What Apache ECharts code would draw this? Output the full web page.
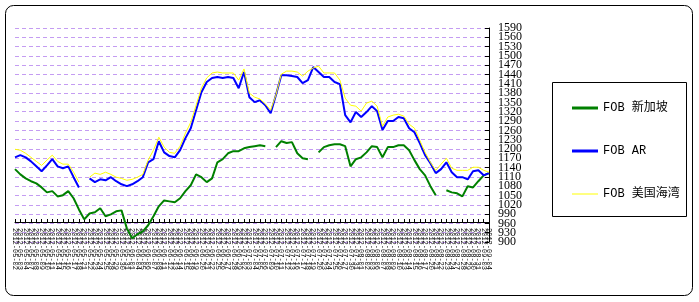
<!DOCTYPE html>
<html><head><meta charset="utf-8">
<script src="https://cdn.jsdelivr.net/npm/echarts@6/dist/echarts.min.js"></script>
<style>html,body{margin:0;padding:0;background:#fff}#c{width:699px;height:302px}</style>
</head><body><div id="c"></div>
<script>
var categories = [
"2012-05-02","2012-05-03","2012-05-04","2012-05-07","2012-05-08","2012-05-09","2012-05-10","2012-05-11","2012-05-14","2012-05-15",
"2012-05-16","2012-05-17","2012-05-18","2012-05-21","2012-05-22","2012-05-23","2012-05-24","2012-05-25","2012-05-28","2012-05-29",
"2012-05-30","2012-05-31","2012-06-01","2012-06-04","2012-06-05","2012-06-06","2012-06-07","2012-06-08","2012-06-11","2012-06-12",
"2012-06-13","2012-06-14","2012-06-15","2012-06-18","2012-06-19","2012-06-20","2012-06-21","2012-06-22","2012-06-25","2012-06-26",
"2012-06-27","2012-06-28","2012-06-29","2012-07-02","2012-07-03","2012-07-04","2012-07-05","2012-07-06","2012-07-09","2012-07-10",
"2012-07-11","2012-07-12","2012-07-13","2012-07-16","2012-07-17","2012-07-18","2012-07-19","2012-07-20","2012-07-23","2012-07-24",
"2012-07-25","2012-07-26","2012-07-27","2012-07-30","2012-07-31","2012-08-01","2012-08-02","2012-08-03","2012-08-06","2012-08-07",
"2012-08-08","2012-08-09","2012-08-10","2012-08-13","2012-08-14","2012-08-15","2012-08-16","2012-08-17","2012-08-20","2012-08-21",
"2012-08-22","2012-08-23","2012-08-24","2012-08-27","2012-08-28","2012-08-29","2012-08-30","2012-08-31","2012-09-03","2012-09-04"];

var fobSingapore = [1135,1118,1105,1096,1089,1076,1060,1064,1047,1051,
1064,1041,1005,973,992,996,1009,983,989,999,
1002,944,912,925,934,954,983,1015,1034,1031,
1028,1041,1064,1083,1118,1109,1093,1105,1157,1167,
1186,1193,1193,1202,1206,1209,1212,1209,null,1206,
1225,1219,1222,1186,1170,1167,null,1189,1206,1212,
1215,1215,1209,1144,1167,1173,1189,1209,1206,1173,
1206,1206,1212,1212,1196,1164,1135,1115,1080,1051,
null,1067,1060,1057,1047,1080,1076,1096,1115,1122];

var fobAR = [1173,1180,1173,1160,1144,1128,1147,1167,1144,1138,
1144,1109,1076,null,1105,1093,1102,1099,1109,1096,
1086,1080,1086,1096,1109,1157,1167,1225,1189,1177,
1173,1196,1235,1267,1325,1383,1416,1429,1432,1429,
1432,1429,1396,1448,1367,1351,1357,1341,1315,1374,
1438,1438,1435,1432,1412,1422,1464,1448,1432,1432,
1416,1409,1309,1286,1319,1303,1319,1338,1322,1261,
1290,1290,1303,1299,1267,1254,1219,1180,1154,1122,
1135,1157,1125,1109,1109,1102,1128,1131,1115,1122];

var fobUSGulf = [1199,1196,1186,1173,1160,1147,1164,1180,1160,1151,
1151,1125,1093,null,1109,1122,1118,1125,1118,1109,
1105,1099,1102,1109,1118,1164,1196,1238,1206,1189,
1186,1209,1251,1286,1341,1396,1429,1445,1448,1445,
1445,1445,1422,1458,1380,1367,1361,1345,1325,1374,
1441,1451,1451,1448,1435,1451,1461,1467,1445,1445,
1445,1422,1364,1341,1338,1322,1348,1354,1338,1273,
1303,1309,1312,1306,1280,1267,1228,1189,1157,1131,
1151,1170,1138,1131,1131,1131,1141,1141,1131,1125];

var seriesNames = ["FOB 新加坡", "FOB AR", "FOB 美国海湾"];
var yMin = 900, yMax = 1590, yStep = 30;

function labelFor(parity) {
  return function (v) {
    var k = Math.round((v - yMin) / yStep);
    return (k % 2 === parity) ? String(v) : '';
  };
}
var yLabelStyle = {fontSize: 12, margin: 9, color: '#000', fontFamily: '"Liberation Serif"',
  showMinLabel: true, showMaxLabel: true, hideOverlap: false};

var chart = echarts.init(document.getElementById('c'), null, {renderer: 'canvas'});
chart.setOption({
  animation: false,
  backgroundColor: '#fff',
  grid: {left: 15, right: 210, top: 28, bottom: 60, containLabel: false},
  graphic: [
    {type: 'rect', shape: {x: 5.5, y: 5.5, width: 687, height: 290, r: 8}, style: {fill: 'none', stroke: '#000', lineWidth: 1}, z: 0},
    {type: 'rect', shape: {x: 552.5, y: 82.5, width: 134, height: 134}, style: {fill: '#fff', stroke: '#000', lineWidth: 1}, z: 1}
  ],
  legend: {
    orient: 'vertical', left: 567, top: 97, itemWidth: 26, itemHeight: 14, itemGap: 31,
    textStyle: {fontSize: 12, color: '#000', fontFamily: '"Liberation Mono","Noto Sans CJK SC"'},
    data: [
      {name: seriesNames[0], icon: 'path://M0,0L26,0L26,3L0,3Z'},
      {name: seriesNames[1], icon: 'path://M0,0L26,0L26,3L0,3Z'},
      {name: seriesNames[2], icon: 'path://M0,0L26,0L26,1L0,1Z'}
    ],
    z: 5
  },
  xAxis: {
    type: 'category', data: categories, boundaryGap: false, offset: -20,
    axisLine: {show: true, lineStyle: {color: '#000', width: 1}},
    axisTick: {show: true, inside: true, length: 3, interval: 0, lineStyle: {color: '#000'}},
    axisLabel: {interval: 0, rotate: -90, fontSize: 7, margin: 6, color: '#000', fontFamily: '"Liberation Mono"'},
    splitLine: {show: false}
  },
  yAxis: [
    {
      type: 'value', position: 'right', min: yMin, max: yMax, interval: yStep,
      axisLine: {show: true, lineStyle: {color: '#000', width: 1}},
      axisTick: {show: true, inside: true, length: 4, lineStyle: {color: '#000'}},
      axisLabel: Object.assign({formatter: labelFor(0)}, yLabelStyle),
      splitLine: {show: true, lineStyle: {color: '#c49cf2', type: [4, 3], width: 1}}
    },
    {
      type: 'value', position: 'right', min: yMin, max: yMax, interval: yStep,
      axisLine: {show: false}, axisTick: {show: false}, splitLine: {show: false},
      axisLabel: Object.assign({formatter: labelFor(1)}, yLabelStyle)
    }
  ],
  series: [
    {name: seriesNames[0], type: 'line', data: fobSingapore, symbol: 'none', connectNulls: false,
     lineStyle: {color: '#008000', width: 2}, itemStyle: {color: '#008000'}},
    {name: seriesNames[1], type: 'line', data: fobAR, symbol: 'none', connectNulls: false,
     lineStyle: {color: '#0000ff', width: 2}, itemStyle: {color: '#0000ff'}},
    {name: seriesNames[2], type: 'line', data: fobUSGulf, symbol: 'none', connectNulls: false,
     lineStyle: {color: '#ffff00', width: 1}, itemStyle: {color: '#ffff00'}}
  ]
});
</script></body></html>
